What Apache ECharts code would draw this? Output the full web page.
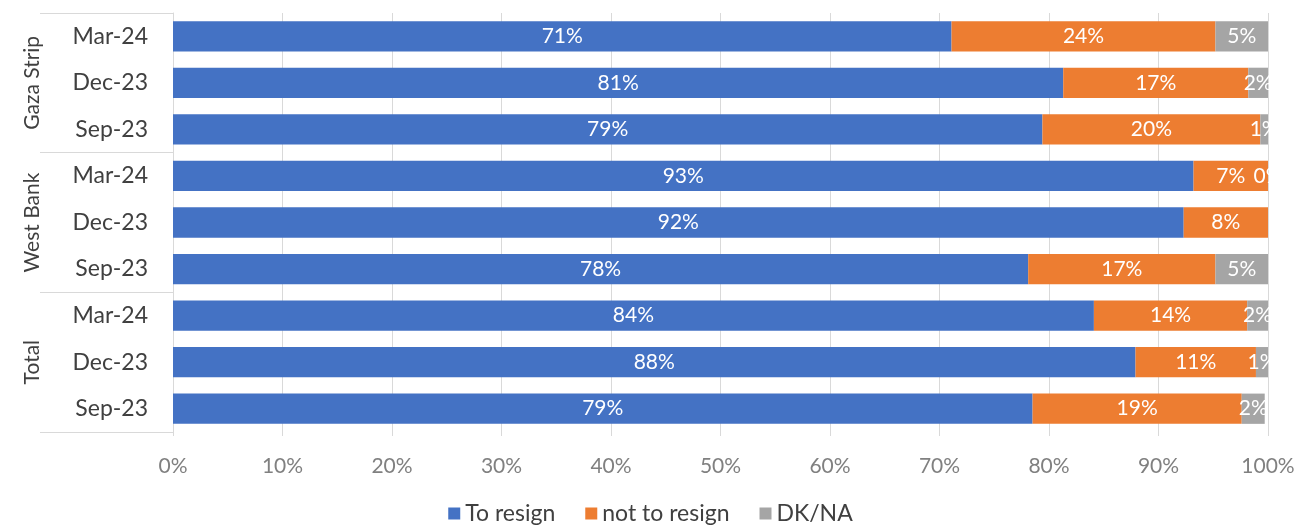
<!DOCTYPE html>
<html>
<head>
<meta charset="utf-8">
<script src="https://cdn.jsdelivr.net/npm/echarts@6/dist/echarts.min.js"></script>
<style>html,body{margin:0;padding:0;background:#fff;}#c{width:1301px;height:529px;}</style>
</head>
<body>
<div id="c"></div>
<script>
const periods = ['Mar-24','Dec-23','Sep-23','Mar-24','Dec-23','Sep-23','Mar-24','Dec-23','Sep-23'];
const groups = ['Gaza Strip','West Bank','Total'];
const toResign    = [71.1, 81.3, 79.4, 93.2, 92.3, 78.1, 84.1, 87.9, 78.5];
const notToResign = [24.1, 16.9, 19.9, 6.8, 7.7, 17.1, 14.0, 11.0, 19.1];
const dkna        = [4.8, 1.9, 0.7, 0.0, 0.0, 4.8, 1.9, 1.1, 2.1];
const seriesNames = ['To resign','not to resign','DK/NA'];
const colors = ['#4472C4','#ED7D31','#A5A5A5'];

const FONT = 'Lato';
const chart = echarts.init(document.getElementById('c'));
const mk = (name, data, i, showZero) => ({
  name, type: 'bar', stack: 'all', data, yAxisIndex: 0,
  barCategoryGap: '35%',
  itemStyle: { color: colors[i] },
  label: {
    show: true, position: 'inside', color: '#ffffff', fontSize: 21, fontFamily: FONT,
    formatter: p => (p.value === 0 && !showZero[p.dataIndex]) ? '' : Math.round(p.value) + '%'
  }
});
chart.setOption({
  animation: false,
  textStyle: { fontFamily: FONT },
  grid: { left: 173, right: 33, top: 13, bottom: 97 },
  legend: {
    bottom: -1, left: 'center', itemWidth: 12, itemHeight: 12, itemGap: 30,
    icon: 'rect',
    textStyle: { color: '#404040', fontSize: 23, fontFamily: FONT },
    data: seriesNames
  },
  xAxis: {
    type: 'value', min: 0, max: 100, interval: 10,
    axisLabel: { formatter: '{value}%', color: '#808080', fontSize: 21, margin: 24, fontFamily: FONT },
    axisLine: { show: false },
    axisTick: { show: true, length: 4, lineStyle: { color: '#d9d9d9' } },
    splitLine: { show: true, lineStyle: { color: '#d9d9d9' } }
  },
  yAxis: [
    {
      type: 'category', data: periods, inverse: true, position: 'left',
      axisLine: { show: true, lineStyle: { color: '#d9d9d9' } },
      axisTick: { show: false },
      axisLabel: { interval: 0, color: '#404040', fontSize: 23, margin: 25, fontFamily: FONT }
    },
    {
      type: 'category', data: groups, inverse: true, position: 'left',
      axisLine: { show: false },
      axisTick: { show: true, interval: 0, length: 133, lineStyle: { color: '#d9d9d9' } },
      axisLabel: { interval: 0, hideOverlap: false, color: '#404040', fontSize: 21, rotate: 90, margin: 141, fontFamily: FONT, align: 'center', verticalAlign: 'middle' }
    }
  ],
  series: [
    mk(seriesNames[0], toResign, 0, []),
    mk(seriesNames[1], notToResign, 1, []),
    mk(seriesNames[2], dkna, 2, [false,false,false,true,false,false,false,false,false])
  ]
});
</script>
</body>
</html>
